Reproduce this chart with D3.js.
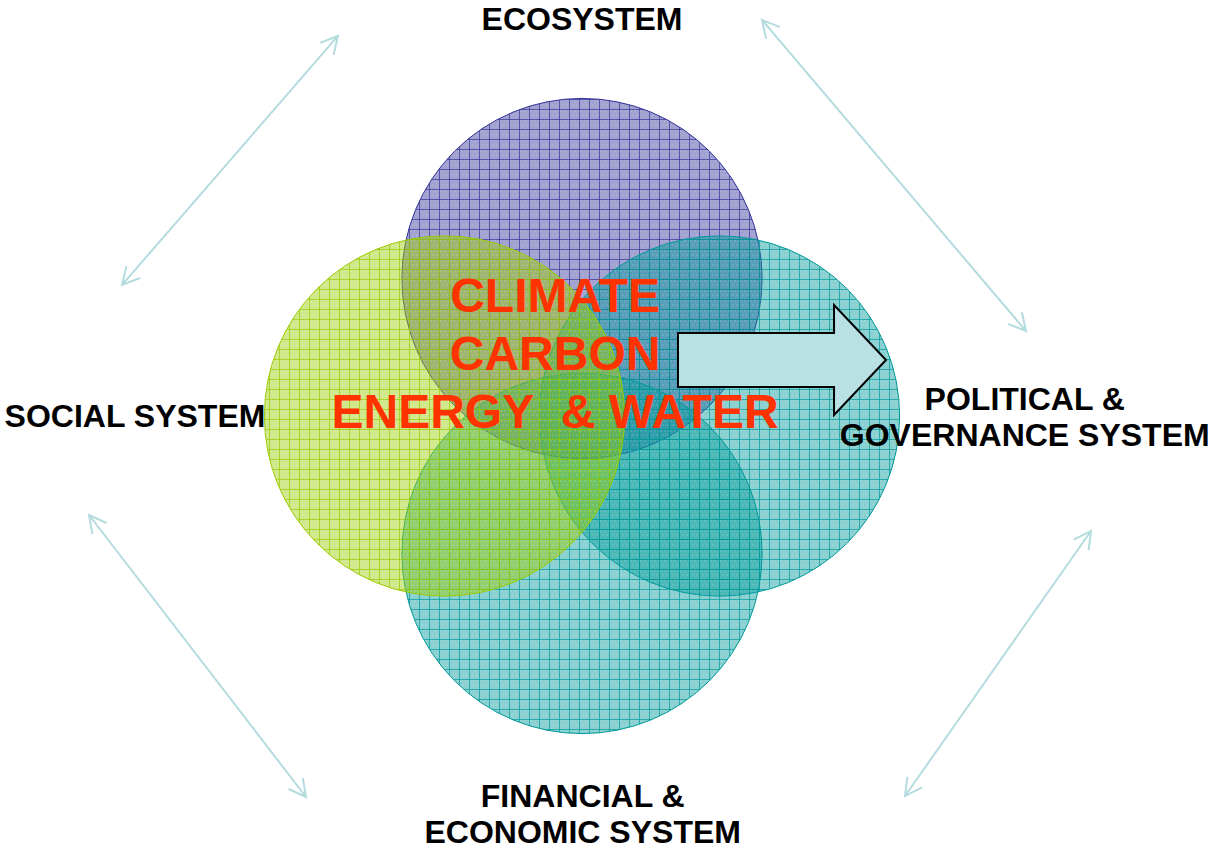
<!DOCTYPE html>
<html>
  <head>
    <meta charset="utf-8">
    <title>Climate, carbon, energy and water systems</title>
    <script src="https://cdnjs.cloudflare.com/ajax/libs/d3/7.8.5/d3.min.js"></script>
    <style>
      body { margin: 0; background: #fff; }
      #chart { display: block; }
      .label { font-family: "Liberation Sans", Arial, sans-serif; font-weight: bold; font-size: 32px; fill: #000; }
      .core { font-family: "Liberation Sans", Arial, sans-serif; font-weight: bold; font-size: 48px; fill: #ff3300; }
    </style>
  </head>
  <body>
    <svg id="chart" width="1216" height="850"></svg>
    <script>
      // data
      var systems = ["Ecosystem", "Political", "Financial", "Social"];
      var systemLabels = [
        ["ECOSYSTEM"],
        ["POLITICAL &", "GOVERNANCE SYSTEM"],
        ["FINANCIAL &", "ECONOMIC SYSTEM"],
        ["SOCIAL SYSTEM"]
      ];
      var coreLines = ["CLIMATE", "CARBON", "ENERGY\u00a0\u00a0& WATER"];

      // layout, in diagram units (1 unit = distance from centre to a circle's centre)
      var circleCentres = { Ecosystem: [0, -1], Political: [1, 0], Financial: [0, 1], Social: [-1, 0] };
      var circleRadius = 1.31;
      var drawOrder = ["Ecosystem", "Political", "Financial", "Social"];
      var labelAnchors = {
        Ecosystem: [0, -2.807],
        Political: [3.22, -0.044],
        Financial: [0.005, 2.84],
        Social: [-3.251, 0.08]
      };
      var lineGap = 0.265;
      var connectors = [
        [[-3.345, -0.953], [-1.775, -2.764]],
        [[1.309, -2.88], [3.229, -0.618]],
        [[-3.585, 0.72], [-2.007, 2.771]],
        [[3.702, 0.836], [2.349, 2.764]]
      ];
      var blockArrow = [
        [0.698, -0.604], [1.833, -0.604], [1.833, -0.807], [2.211, -0.407],
        [1.833, -0.007], [1.833, -0.211], [0.698, -0.211]
      ];
      var coreAnchor = [-0.196, -0.756];
      var coreGap = 0.422;

      var colours = {
        Ecosystem: { base: "#333399", line: "#333399" },
        Political: { base: "#009999", line: "#009999" },
        Financial: { base: "#009999", line: "#009999" },
        Social: { base: "#99cc00", line: "#99cc00" }
      };

      var svg = d3.select("#chart");
      var x = d3.scaleLinear().domain([-1, 1]).range([582 - 137.5, 582 + 137.5]);
      var y = d3.scaleLinear().domain([-1, 1]).range([416 - 137.5, 416 + 137.5]);
      var unit = x(1) - x(0);

      // hatched fills
      var defs = svg.append("defs");
      systems.forEach(function(s) {
        var p = defs.append("pattern")
          .attr("id", "grid" + s)
          .attr("patternUnits", "userSpaceOnUse")
          .attr("width", 10)
          .attr("height", 10);
        p.append("rect")
          .attr("width", 10)
          .attr("height", 10)
          .attr("fill", colours[s].base)
          .attr("fill-opacity", 0.45);
        p.append("path")
          .attr("d", "M0,1 L2,1 M4,1 L6,1 M8,1 L10,1 M2,5 L4,5 M6,5 L8,5")
          .attr("stroke", "#fff")
          .attr("stroke-opacity", 0.12);
        p.append("path")
          .attr("d", "M0,9.5 H10 M9.5,0 V10")
          .attr("stroke", colours[s].line)
          .attr("stroke-opacity", 0.7)
          .attr("stroke-width", 1);
      });

      // connector arrows
      var connectorGroup = svg.append("g")
        .attr("fill", "none")
        .attr("stroke", "#b4dcdf")
        .attr("stroke-width", 2);
      function head(tip, from) {
        var dx = tip[0] - from[0], dy = tip[1] - from[1];
        var len = Math.sqrt(dx * dx + dy * dy);
        var ux = dx / len, uy = dy / len;
        var back = 17, side = 9;
        return "M" + (tip[0] - ux * back - uy * side) + "," + (tip[1] - uy * back + ux * side) +
          "L" + tip[0] + "," + tip[1] +
          "L" + (tip[0] - ux * back + uy * side) + "," + (tip[1] - uy * back - ux * side);
      }
      connectorGroup.selectAll("path")
        .data(connectors)
        .enter().append("path")
          .attr("d", function(d) {
            var a = [x(d[0][0]), y(d[0][1])], b = [x(d[1][0]), y(d[1][1])];
            return "M" + a + "L" + b + head(a, b) + head(b, a);
          });

      // circles
      svg.append("g").selectAll("circle")
        .data(drawOrder)
        .enter().append("circle")
          .attr("cx", function(d) { return x(circleCentres[d][0]); })
          .attr("cy", function(d) { return y(circleCentres[d][1]); })
          .attr("r", circleRadius * unit)
          .attr("fill", function(d) { return "url(#grid" + d + ")"; })
          .attr("stroke", function(d) { return colours[d].line; })
          .attr("stroke-width", 1);

      // core text
      svg.append("g").selectAll("text")
        .data(coreLines)
        .enter().append("text")
          .attr("class", "core")
          .attr("text-anchor", "middle")
          .attr("x", x(coreAnchor[0]))
          .attr("y", function(d, i) { return y(coreAnchor[1] + i * coreGap); })
          .text(function(d) { return d; });

      // block arrow
      svg.append("path")
        .attr("d", d3.line()
          .x(function(d) { return x(d[0]); })
          .y(function(d) { return y(d[1]); })(blockArrow) + "Z")
        .attr("fill", "#b9e0e3")
        .attr("stroke", "#000")
        .attr("stroke-width", 2)
        .attr("stroke-linejoin", "miter");

      // system labels
      systems.forEach(function(s, i) {
        svg.append("text")
          .attr("class", "label")
          .attr("text-anchor", "middle")
          .selectAll("tspan")
          .data(systemLabels[i])
          .enter().append("tspan")
            .attr("x", x(labelAnchors[s][0]))
            .attr("y", function(d, j) { return y(labelAnchors[s][1] + j * lineGap); })
            .text(function(d) { return d; });
      });
    </script>
  </body>
</html>
